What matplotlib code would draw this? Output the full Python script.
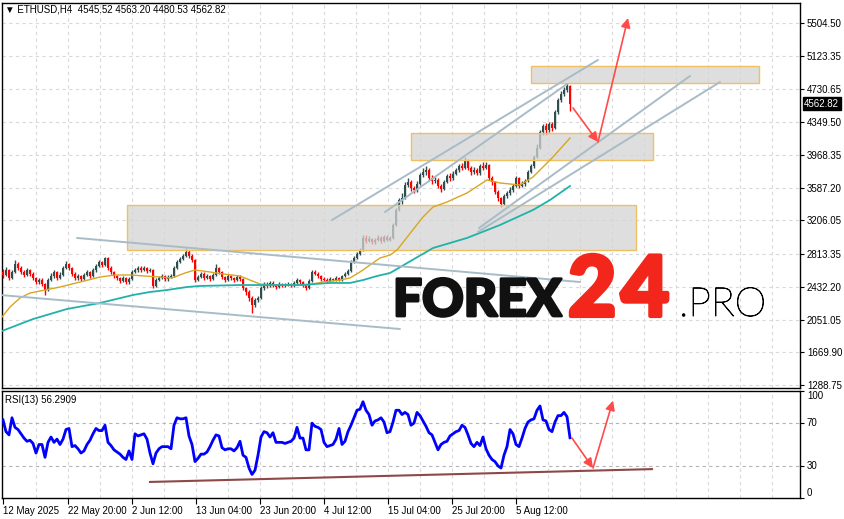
import numpy as np
import matplotlib.pyplot as plt
import matplotlib.patheffects as pe

W, H = 845, 519
plt.rcParams['font.family'] = ['Liberation Sans', 'DejaVu Sans']

# ETHUSD H4, one candle per 3 bars (12h)
first_open = 2600
close = [2570, 2628, 2535, 2605, 2698, 2651, 2605, 2570, 2628, 2582,
         2535, 2488, 2511, 2465, 2395, 2511, 2558, 2605, 2535, 2570,
         2651, 2698, 2651, 2582, 2535, 2558, 2523, 2570, 2605, 2558,
         2628, 2674, 2721, 2686, 2768, 2651, 2605, 2558, 2535, 2500,
         2535, 2488, 2523, 2605, 2628, 2651, 2628, 2651, 2616, 2628,
         2442, 2511, 2535, 2558, 2523, 2546, 2558, 2651, 2721, 2756,
         2791, 2837, 2791, 2744, 2511, 2546, 2582, 2535, 2558, 2523,
         2570, 2651, 2605, 2546, 2511, 2558, 2535, 2511, 2546, 2523,
         2418, 2372, 2302, 2221, 2279, 2302, 2418, 2465, 2442, 2477,
         2453, 2430, 2465, 2442, 2453, 2465, 2442, 2477, 2511, 2488,
         2453, 2418, 2500, 2605, 2582, 2558, 2523, 2511, 2500, 2523,
         2511, 2535, 2511, 2558, 2582, 2616, 2721, 2768, 2814, 2861,
         3001, 2966, 2989, 2954, 2977, 3001, 2966, 3012, 2977, 3001,
         3152, 3327, 3443, 3466, 3618, 3653, 3583, 3560, 3630, 3734,
         3769, 3792, 3699, 3664, 3676, 3606, 3571, 3653, 3723, 3699,
         3746, 3792, 3839, 3816, 3909, 3816, 3769, 3792, 3758, 3839,
         3816, 3851, 3699, 3653, 3536, 3466, 3396, 3490, 3525, 3560,
         3606, 3699, 3606, 3630, 3664, 3769, 3839, 3944, 4049, 4235,
         4305, 4258, 4328, 4282, 4468, 4608, 4678, 4724, 4771, 4562.82]
high = [2640, 2660, 2645, 2625, 2744, 2720, 2670, 2625, 2650, 2640,
        2600, 2550, 2540, 2530, 2480, 2530, 2590, 2630, 2620, 2600,
        2680, 2735, 2710, 2665, 2600, 2585, 2575, 2595, 2630, 2620,
        2650, 2700, 2745, 2735, 2780, 2775, 2670, 2620, 2575, 2550,
        2560, 2550, 2545, 2625, 2655, 2680, 2670, 2675, 2665, 2655,
        2640, 2530, 2560, 2580, 2575, 2565, 2580, 2670, 2740, 2780,
        2815, 2884, 2860, 2810, 2760, 2570, 2610, 2600, 2580, 2575,
        2590, 2700, 2665, 2620, 2560, 2580, 2575, 2550, 2570, 2565,
        2535, 2435, 2390, 2320, 2300, 2330, 2440, 2490, 2485, 2500,
        2495, 2470, 2485, 2480, 2475, 2490, 2480, 2495, 2530, 2525,
        2500, 2465, 2520, 2630, 2625, 2600, 2575, 2545, 2530, 2545,
        2540, 2555, 2550, 2575, 2600, 2640, 2740, 2790, 2840, 2880,
        3030, 3040, 3020, 3005, 3000, 3030, 3020, 3040, 3035, 3025,
        3170, 3350, 3470, 3520, 3650, 3700, 3680, 3610, 3660, 3760,
        3810, 3840, 3810, 3730, 3710, 3700, 3630, 3680, 3750, 3760,
        3775, 3820, 3865, 3870, 3944, 3925, 3840, 3830, 3815, 3865,
        3880, 3880, 3865, 3720, 3670, 3560, 3480, 3510, 3550, 3590,
        3630, 3720, 3710, 3660, 3690, 3790, 3860, 3970, 4090, 4260,
        4330, 4340, 4350, 4350, 4490, 4630, 4710, 4760, 4806, 4780]
low = [2540, 2555, 2515, 2520, 2590, 2630, 2585, 2545, 2555, 2560,
       2510, 2470, 2465, 2440, 2337, 2380, 2495, 2540, 2515, 2520,
       2560, 2640, 2630, 2560, 2510, 2515, 2500, 2510, 2555, 2540,
       2545, 2610, 2660, 2665, 2675, 2630, 2585, 2540, 2510, 2480,
       2485, 2465, 2470, 2510, 2590, 2610, 2605, 2615, 2595, 2600,
       2420, 2430, 2495, 2520, 2505, 2505, 2530, 2545, 2640, 2705,
       2740, 2775, 2770, 2720, 2490, 2495, 2530, 2515, 2520, 2500,
       2510, 2560, 2585, 2525, 2490, 2495, 2515, 2490, 2495, 2505,
       2395, 2340, 2270, 2128, 2200, 2250, 2290, 2400, 2420, 2430,
       2435, 2410, 2415, 2425, 2425, 2440, 2425, 2430, 2460, 2470,
       2435, 2395, 2405, 2490, 2565, 2540, 2505, 2495, 2480, 2485,
       2495, 2500, 2495, 2500, 2545, 2570, 2605, 2710, 2755, 2800,
       2850, 2945, 2950, 2930, 2935, 2960, 2945, 2950, 2960, 2960,
       2990, 3140, 3310, 3400, 3450, 3590, 3550, 3520, 3540, 3615,
       3710, 3740, 3670, 3630, 3640, 3580, 3540, 3555, 3640, 3670,
       3680, 3730, 3770, 3790, 3800, 3790, 3740, 3750, 3730, 3740,
       3795, 3800, 3675, 3620, 3510, 3430, 3362, 3380, 3470, 3505,
       3540, 3590, 3585, 3590, 3610, 3650, 3755, 3820, 3930, 4040,
       4200, 4200, 4230, 4250, 4270, 4450, 4590, 4650, 4700, 4480]

rsi = [73, 62, 59, 75, 66, 64, 60, 56, 53, 54, 51, 42, 50, 50, 38, 52, 57, 52, 55, 50,
       55, 64, 65, 48, 49, 46, 42, 44, 50, 54, 60, 65, 63, 63, 68, 52, 49, 45, 43, 41,
       38, 36, 44, 36, 60, 58, 59, 60, 55, 42, 32, 42, 46, 48, 48, 48, 46, 68, 75, 74,
       74, 75, 58, 50, 34, 37, 41, 41, 43, 48, 54, 59, 58, 47, 45, 46, 46, 44, 47, 53,
       40, 38, 28, 22, 26, 40, 57, 62, 61, 57, 61, 52, 52, 52, 51, 52, 53, 56, 66, 56,
       56, 45, 45, 70, 67, 66, 64, 52, 48, 49, 50, 55, 65, 50, 53, 62, 68, 75, 82, 83,
       90, 82, 78, 68, 72, 73, 75, 71, 61, 62, 71, 82, 82, 78, 80, 78, 68, 70, 80, 77,
       72, 67, 61, 59, 52, 45, 50, 52, 53, 58, 60, 62, 63, 68, 66, 59, 51, 48, 52, 49,
       57, 46, 40, 36, 34, 30, 28, 40, 48, 64, 60, 50, 48, 56, 65, 71, 73, 74, 82, 86,
       73, 72, 64, 62, 71, 77, 77, 80, 76, 56.29]

# moving averages (bar index, price)
ma_fast_bar = [-1, 7, 17, 27, 42, 57, 77, 97, 112, 127, 142, 157, 169, 182, 192, 207,
               220, 237, 247, 257, 270, 287, 304, 320, 337, 347, 357, 367, 377, 387,
               394, 420, 430, 444, 464, 484, 497, 517, 530, 550, 567]
ma_fast = [2081, 2197, 2302, 2360, 2395, 2430, 2488, 2546, 2570, 2570, 2558, 2546, 2535,
           2593, 2628, 2605, 2582, 2558, 2511, 2465, 2453, 2453, 2453, 2488, 2511, 2535,
           2605, 2686, 2768, 2802, 2861, 3245, 3361, 3420, 3525, 3676, 3641, 3618, 3711,
           3944, 4165]
ma_slow_bar = [-1, 30, 64, 97, 130, 147, 164, 184, 197, 237, 297, 327, 347, 360, 374,
               387, 430, 464, 497, 530, 547, 567]
ma_slow = [1918, 2057, 2174, 2244, 2337, 2372, 2395, 2430, 2442, 2453, 2453, 2477, 2477,
           2511, 2558, 2593, 2884, 3001, 3152, 3327, 3443, 3606]

# analysis objects
zones = [(528, 756 - 528, 4806, 5004), (408, 650 - 408, 3909, 4224), (124, 633 - 124, 2861, 3385)]
trend_lines = [((74, 3001), (577, 2488)), ((-3, 2337), (397, 1941)),
               ((329, 3210), (595, 5074)), ((382, 3303), (564, 4794)),
               ((476, 3117), (687, 4887)), ((475, 3071), (717, 4817))]
price_arrows = [((570, 4515), (595, 4119)), ((595, 4119), (625, 5563))]
rsi_arrows = [((569, 56), (590, 28)), ((590, 28), (610, 91))]
rsi_trend = ((147, 15), (649, 27))

price_ticks = [5504.50, 5123.35, 4730.65, 4349.50, 3968.35, 3587.20, 3206.05,
               2813.35, 2432.20, 2051.05, 1669.90, 1288.75]
date_bars = [0, 65, 129, 193, 257, 321, 385, 449, 513]
date_labels = ['12 May 2025', '22 May 20:00', '2 Jun 12:00', '13 Jun 04:00', '23 Jun 20:00',
               '4 Jul 12:00', '15 Jul 04:00', '25 Jul 20:00', '5 Aug 12:00']

fig = plt.figure(figsize=(W / 100, H / 100), dpi=100)
ax = fig.add_axes([2 / W, 1 - 388 / H, 798 / W, 385 / H])
ax2 = fig.add_axes([2 / W, 1 - 498 / H, 798 / W, 107 / H])

bars = np.arange(len(close)) * 3
opens = [first_open] + close[:-1]
for b, o, c, hi, lo in zip(bars, opens, close, high, low):
    col = '#2f4f4f' if c >= o else '#ff0000'
    ax.vlines(b, lo, hi, color=col, lw=1, zorder=3)
    ax.bar(b, max(abs(c - o), 6), bottom=min(o, c), width=2.2, color=col, lw=0, zorder=3)

for x0, w, lo, hi in zones:
    ax.add_patch(plt.Rectangle((x0, lo), w, hi - lo, facecolor='#d4d4d4', alpha=0.75,
                               edgecolor='none', zorder=4))
    ax.add_patch(plt.Rectangle((x0, lo), w, hi - lo, facecolor='none',
                               edgecolor='#f0c060', lw=1, zorder=4))

ax.plot(ma_fast_bar, ma_fast, color='#daa520', lw=1, zorder=5)
ax.plot(ma_slow_bar, ma_slow, color='#20b2aa', lw=1.3, zorder=5)

for (x0, y0), (x1, y1) in trend_lines:
    ax.plot([x0, x1], [y0, y1], color='#a8bcc8', lw=1.4, zorder=6, solid_capstyle='round')

for s, e in price_arrows:
    ax.annotate('', xy=e, xytext=s, zorder=7,
                arrowprops=dict(arrowstyle='-|>', color='#ff4a4a', lw=1.2, mutation_scale=14,
                                shrinkA=0, shrinkB=0))

ax.set_xlim(-1, 797)
ax.set_ylim(1254, 5737)
ax.set_yticks(price_ticks)
ax.set_yticklabels([f'{p:.2f}' for p in price_ticks])
ax.yaxis.tick_right()
ax.tick_params(axis='y', length=3, pad=2, labelsize=7, width=0.8)
ax.set_xticks([])
ax.yaxis.grid(True, color='#d9d9d9', lw=0.8, ls=(0, (3, 3)))

# RSI panel
ax2.plot(bars, rsi, color='#0000ff', lw=2, zorder=4)
(rx0, ry0), (rx1, ry1) = rsi_trend
ax2.plot([rx0, rx1], [ry0, ry1], color='#8e4848', lw=1.5, zorder=3)
for s, e in rsi_arrows:
    ax2.annotate('', xy=e, xytext=s, zorder=7,
                 arrowprops=dict(arrowstyle='-|>', color='#ff4a4a', lw=1.2, mutation_scale=14,
                                 shrinkA=0, shrinkB=0))
for lvl in (70, 30):
    ax2.axhline(lvl, color='#b4b4b4', lw=0.8, ls=(0, (3, 3)), zorder=1)
ax2.set_xlim(-1, 797)
ax2.set_ylim(0, 100)
ax2.yaxis.tick_right()
ax2.set_yticks([100, 70, 30, 0])
ax2.set_yticklabels(['100', '70', '30', '0'])
for lab, va in zip(ax2.get_yticklabels(), ['top', 'center', 'center', 'bottom']):
    lab.set_va(va)
ax2.tick_params(axis='y', length=3, pad=2, labelsize=7, width=0.8)
ax2.set_xticks(date_bars)
ax2.set_xticklabels(date_labels, ha='left')
ax2.tick_params(axis='x', length=4, pad=2, labelsize=7, width=0.8)

for a in (ax, ax2):
    for g in range(33, 797, 32):
        a.axvline(g, color='#d9d9d9', lw=0.8, ls=(0, (3, 3)), zorder=0)
    for sp in a.spines.values():
        sp.set_color('black')
        sp.set_linewidth(1)

# last price marker
ax.annotate(f'{close[-1]:.2f}', xy=(1, close[-1]), xycoords=('axes fraction', 'data'),
            xytext=(3, 0), textcoords='offset points', va='center', ha='left',
            fontsize=7, color='white',
            bbox=dict(boxstyle='square,pad=0.15', fc='black', ec='black'))

fig.text(5 / W, 1 - 10 / H, '\u25bc ETHUSD,H4  4545.52 4563.20 4480.53 4562.82',
         fontsize=7, va='center', ha='left')
fig.text(5 / W, 1 - 400 / H, 'RSI(13) 56.2909', fontsize=7, va='center', ha='left')

# watermark
base = 1 - 316 / H
fig.text(393 / W, base, 'FOREX', fontsize=37, family=['Lato', 'DejaVu Sans'],
         fontweight='black', color='#111111', va='baseline', ha='left',
         path_effects=[pe.withStroke(linewidth=2, foreground='#111111')])
fig.text(568 / W, base, '2', fontsize=60, family=['Lato', 'DejaVu Sans'],
         fontweight='black', color='#f2261b', va='baseline', ha='left',
         path_effects=[pe.withStroke(linewidth=3, foreground='#f2261b')])
fig.text(621 / W, base, '4', fontsize=60, family=['Lato', 'DejaVu Sans'],
         fontweight='black', color='#f2261b', va='baseline', ha='left',
         path_effects=[pe.withStroke(linewidth=3, foreground='#f2261b')])
fig.text(679 / W, base, '.PRO', fontsize=29, family=['Lato', 'DejaVu Sans'],
         fontweight='light', color='#000000', va='baseline', ha='left',
         path_effects=[pe.withStroke(linewidth=0.6, foreground='#000000')])

fig.savefig('out.png', dpi=100)
